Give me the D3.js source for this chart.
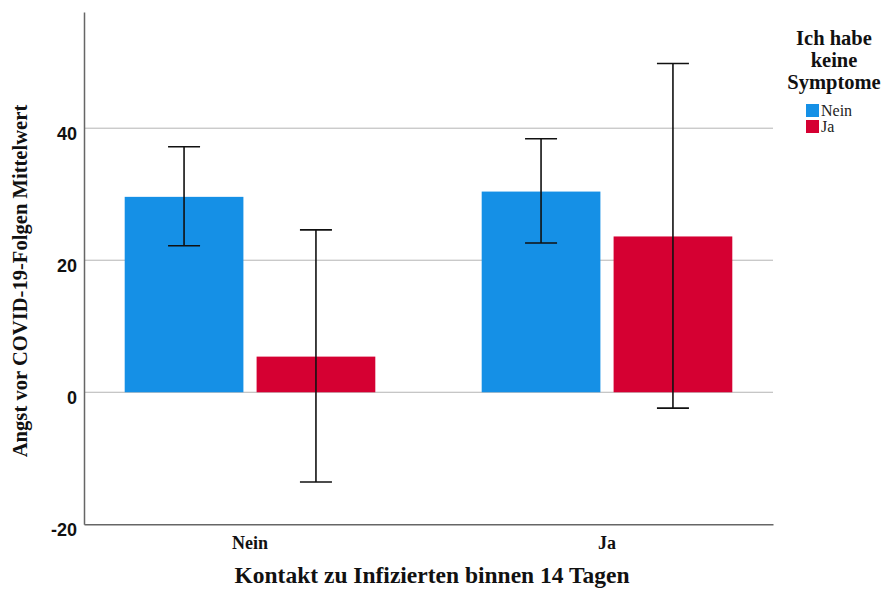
<!DOCTYPE html>
<html>
<head>
<meta charset="utf-8">
<script src="https://cdn.jsdelivr.net/npm/d3@7"></script>
<style>
  html, body { margin: 0; padding: 0; background: #fff; }
  svg { display: block; }
</style>
</head>
<body>
<svg id="chart" width="890" height="597"></svg>
<script>
// Mean fear of COVID-19 consequences, by contact with infected persons and symptom status
const contactGroups = ["Nein", "Ja"];
const symptomGroups = ["Nein", "Ja"];
const meanValues = [
  [29.6, 5.4],   // Kontakt: Nein
  [30.4, 23.6]   // Kontakt: Ja
];
const ciLower = [
  [22.2, -13.6],
  [22.6, -2.4]
];
const ciUpper = [
  [37.2, 24.6],
  [38.4, 49.8]
];
const yTicks = [-20, 0, 20, 40];
const seriesColors = ["#1590e6", "#d50032"];

const svg = d3.select("#chart");
const plot = { left: 84, right: 773, top: 12, bottom: 524.3 };

const y = d3.scaleLinear().domain([-20, 57.6]).range([plot.bottom, plot.top]);
const x0 = d3.scaleBand().domain(contactGroups).range([plot.left, plot.right])
  .paddingInner(0.298).paddingOuter(0.114);
const x1 = d3.scaleBand().domain(symptomGroups).range([0, x0.bandwidth()])
  .paddingInner(0.1);

// grid lines
svg.append("g").selectAll("line")
  .data(yTicks.filter(t => t > -20))
  .join("line")
  .attr("x1", plot.left).attr("x2", plot.right)
  .attr("y1", d => y(d)).attr("y2", d => y(d))
  .attr("stroke", "#b4b4b4").attr("stroke-width", 1);

// bars
const rows = [];
contactGroups.forEach((c, i) => symptomGroups.forEach((s, j) => rows.push({
  c, s, j, v: meanValues[i][j], lo: ciLower[i][j], hi: ciUpper[i][j]
})));

svg.append("g").selectAll("rect")
  .data(rows)
  .join("rect")
  .attr("x", d => x0(d.c) + x1(d.s))
  .attr("width", x1.bandwidth())
  .attr("y", d => y(Math.max(0, d.v)))
  .attr("height", d => Math.abs(y(d.v) - y(0)))
  .attr("fill", d => seriesColors[d.j]);

// error bars
const capHalf = 16;
const eb = svg.append("g").attr("stroke", "#111").attr("stroke-width", 1.6);
rows.forEach(d => {
  const cx = x0(d.c) + x1(d.s) + x1.bandwidth() / 2;
  eb.append("line").attr("x1", cx).attr("x2", cx).attr("y1", y(d.hi)).attr("y2", y(d.lo));
  eb.append("line").attr("x1", cx - capHalf).attr("x2", cx + capHalf).attr("y1", y(d.hi)).attr("y2", y(d.hi));
  eb.append("line").attr("x1", cx - capHalf).attr("x2", cx + capHalf).attr("y1", y(d.lo)).attr("y2", y(d.lo));
});

// axes
const yAxis = d3.axisLeft(y).tickValues(yTicks).tickFormat(d => String(d))
  .tickSize(0).tickPadding(7);
const gy = svg.append("g").attr("transform", `translate(${plot.left},0)`).call(yAxis);
gy.select(".domain").attr("stroke", "#666").attr("stroke-width", 1.5);
gy.selectAll("text")
  .attr("font-family", "Liberation Sans, Arial, sans-serif")
  .attr("font-size", 18).attr("font-weight", "bold").attr("fill", "#111")
  .attr("dy", "0.6em");

const xAxis = d3.axisBottom(x0).tickSize(0).tickPadding(12);
const gx = svg.append("g").attr("transform", `translate(0,${plot.bottom})`).call(xAxis);
gx.select(".domain").attr("stroke", "#666").attr("stroke-width", 1.5);
gx.selectAll("text")
  .attr("font-family", "Liberation Serif, Times New Roman, serif")
  .attr("font-size", 18).attr("font-weight", "bold").attr("fill", "#111");

// axis titles
svg.append("text")
  .attr("x", 432).attr("y", 583)
  .attr("text-anchor", "middle")
  .attr("font-family", "Liberation Serif, Times New Roman, serif")
  .attr("font-size", 23.5).attr("font-weight", "bold").attr("fill", "#111")
  .text("Kontakt zu Infizierten binnen 14 Tagen");

svg.append("text")
  .attr("transform", "translate(27,281) rotate(-90)")
  .attr("text-anchor", "middle")
  .attr("font-family", "Liberation Serif, Times New Roman, serif")
  .attr("font-size", 20.6).attr("font-weight", "bold").attr("fill", "#111")
  .text("Angst vor COVID-19-Folgen Mittelwert");

// legend
const lg = svg.append("g");
["Ich habe", "keine", "Symptome"].forEach((t, i) => {
  lg.append("text")
    .attr("x", 834).attr("y", 45 + i * 22)
    .attr("text-anchor", "middle")
    .attr("font-family", "Liberation Serif, Times New Roman, serif")
    .attr("font-size", 20.5).attr("font-weight", "bold").attr("fill", "#111")
    .text(t);
});
symptomGroups.forEach((s, i) => {
  lg.append("rect")
    .attr("x", 806).attr("y", 104 + i * 16)
    .attr("width", 13).attr("height", 13)
    .attr("fill", seriesColors[i]);
  lg.append("text")
    .attr("x", 821).attr("y", 116 + i * 16)
    .attr("font-family", "Liberation Serif, Times New Roman, serif")
    .attr("font-size", 16).attr("fill", "#222")
    .text(s);
});
</script>
</body>
</html>
